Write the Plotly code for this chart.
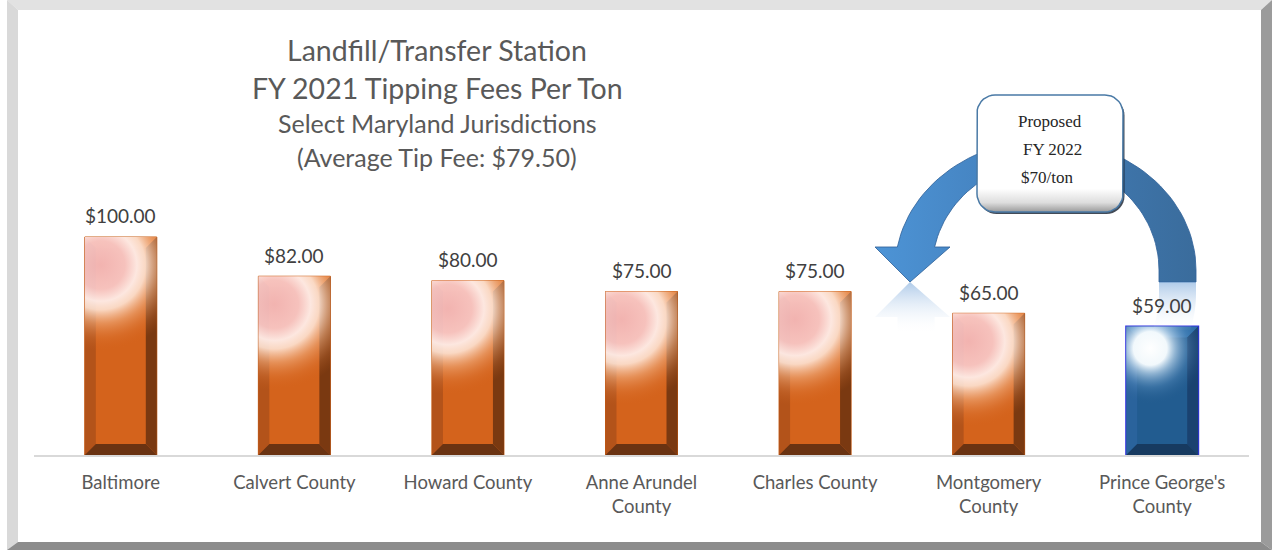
import numpy as np
import plotly.graph_objects as go

# ---------------- data ----------------
categories = ["Baltimore", "Calvert County", "Howard County", "Anne Arundel County",
              "Charles County", "Montgomery County", "Prince George's County"]
tick_labels = ["Baltimore", "Calvert County", "Howard County", "Anne Arundel<br>County",
               "Charles County", "Montgomery<br>County", "Prince George's<br>County"]
tip_fees = [100.00, 82.00, 80.00, 75.00, 75.00, 65.00, 59.00]
title_lines = ["Landfill/Transfer Station", "FY 2021 Tipping Fees Per Ton",
               "Select Maryland Jurisdictions", "(Average Tip Fee: $79.50)"]
callout_lines = ["Proposed", "FY 2022", "$70/ton"]
highlighted = "Prince George's County"

# ---------------- geometry / style ----------------
W, H = 1274, 550
X_L, X_R = 34, 1249          # plot area (px)
BASE_PX = 455                # baseline (px from top)
PY = 2.18                    # px per $ on y
Y_MAX = 110
n = len(categories)
PX = (X_R - X_L) / n         # px per category
x_dom = [X_L / W, X_R / W]
y_dom = [(H - BASE_PX) / H, (H - BASE_PX + Y_MAX * PY) / H]
HW = 36 / PX                 # half bar width in x units
FONT = "Lato, 'Open Sans', sans-serif"

hl = [c == highlighted for c in categories]
idx_orange = [i for i in range(n) if not hl[i]]
idx_blue = [i for i in range(n) if hl[i]]

ORANGE = dict(face="#D4631C", line="#C55A11", top="#D96A20", left="#B3531A",
              right="#7A3911", bottom="#6A3312")
BLUE = dict(face="#225C90", line="#3030E0", top="#2C6DA8", left="#2A639C",
            right="#1A4270", bottom="#173A60")

fig = go.Figure()

# bars
fig.add_trace(go.Bar(
    x=list(range(n)), y=tip_fees, width=2 * HW,
    marker=dict(color=[BLUE["face"] if h else ORANGE["face"] for h in hl],
                line=dict(color=[BLUE["line"] if h else ORANGE["line"] for h in hl],
                          width=[2 if h else 1 for h in hl])),
    hoverinfo="skip", showlegend=False))


def bevel_polys(idx_list, which):
    xs, ys = [], []
    bx, by = 11 / PX, 11 / PY
    for i in idx_list:
        v = tip_fees[i]
        xl, xr = i - HW, i + HW
        yt, yb = v, 0
        pts = {
            "top": [(xl, yt), (xr, yt), (xr - bx, yt - by), (xl + bx, yt - by)],
            "left": [(xl, yt), (xl + bx, yt - by), (xl + bx, yb + by), (xl, yb)],
            "right": [(xr, yt), (xr, yb), (xr - bx, yb + by), (xr - bx, yt - by)],
            "bottom": [(xl, yb), (xl + bx, yb + by), (xr - bx, yb + by), (xr, yb)],
        }[which]
        pts = pts + [pts[0]]
        xs += [p[0] for p in pts] + [None]
        ys += [p[1] for p in pts] + [None]
    return xs, ys


for idx_list, pal in ((idx_orange, ORANGE), (idx_blue, BLUE)):
    for part in ("top", "left", "right", "bottom"):
        xs, ys = bevel_polys(idx_list, part)
        fig.add_trace(go.Scatter(x=xs, y=ys, mode="none", fill="toself",
                                 fillcolor=pal[part], hoverinfo="skip",
                                 showlegend=False))


def glow_trace(i, dx_px, dy_px, R_px, cscale):
    v = tip_fees[i]
    xl, xr = i - HW, i + HW
    yt = v
    yb = max(v - (dy_px + R_px) / PY, 0)
    cx = i + dx_px / PX
    cy = v - dy_px / PY
    rx, ry = R_px / PX, R_px / PY
    # polygon = bar region; zero-area spikes stretch the bounding box so the
    # radial gradient is centred at (cx, cy)
    xs = [xl, xl, xl, xr, cx + rx, xr, xr, xl, cx - rx, xl, xl, xl, xl]
    ys = [yt, cy + ry, yt, yt, yt, yt, yb, yb, yb, yb, cy - ry, yb, yt]
    return go.Scatter(x=xs, y=ys, mode="lines", fill="toself",
                      line=dict(width=0, simplify=False, color="rgba(0,0,0,0)"),
                      fillgradient=dict(type="radial", colorscale=cscale),
                      hoverinfo="skip", showlegend=False)


orange_glow = [[0, "rgba(246,190,196,0.88)"], [0.28, "rgba(250,204,206,0.9)"],
               [0.42, "rgba(255,238,234,0.95)"], [0.52, "rgba(255,232,218,0.88)"],
               [0.68, "rgba(244,180,135,0.55)"], [0.85, "rgba(228,135,75,0.22)"],
               [1, "rgba(212,99,28,0)"]]
blue_glow = [[0, "rgba(255,255,255,1)"], [0.3, "rgba(248,253,255,0.97)"],
             [0.45, "rgba(205,228,246,0.65)"], [0.7, "rgba(120,170,215,0.25)"],
             [1, "rgba(35,90,140,0)"]]
for i in range(n):
    if hl[i]:
        fig.add_trace(glow_trace(i, -12, 22, 56, blue_glow))
    else:
        fig.add_trace(glow_trace(i, -20, 28, 86, orange_glow))


# ---------------- decorations on a pixel-space overlay subplot ----------------
def pix(**kw):
    return dict(xaxis="x2", yaxis="y2", hoverinfo="skip", showlegend=False, **kw)


# frame
frame = [
    ([7, 1272, 1261, 18], [0, 0, 10, 10], "#E2E2E2"),
    ([7, 18, 18, 7], [0, 10, 542, 550], "#D9D9D9"),
    ([1272, 1272, 1261, 1261], [0, 550, 542, 10], "#9B9B9B"),
    ([7, 18, 1261, 1272], [550, 542, 542, 550], "#8C8C8C"),
]
for xs, ys, col in frame:
    fig.add_trace(go.Scatter(x=xs + [xs[0]], y=ys + [ys[0]], mode="none",
                             fill="toself", fillcolor=col, **pix()))

# curved arrow
cx0, cy0 = 1045.5, 270
ao, bo, ai, bi = 150.5, 130, 113.5, 108
th_o = np.linspace(np.pi - np.arcsin(23 / bo), 0, 60)
th_i = np.linspace(0, np.pi - np.arcsin(23 / bi), 60)
ax_ = list(cx0 + ao * np.cos(th_o)) + [1196, 1196, 1159, 1159] + list(cx0 + ai * np.cos(th_i)) \
    + [950, 910, 875]
ay_ = list(cy0 - bo * np.sin(th_o)) + [270, 282, 282, 270] + list(cy0 - bi * np.sin(th_i)) \
    + [247, 282, 247]
ax_ += [ax_[0]]
ay_ += [ay_[0]]
fig.add_trace(go.Scatter(x=ax_, y=ay_, mode="lines", fill="toself",
                         line=dict(color="rgba(50,100,155,0.85)", width=1),
                         fillgradient=dict(type="horizontal",
                                           colorscale=[[0, "#4D94D6"], [0.45, "#437FBB"],
                                                       [1, "#3A6C9C"]]),
                         **pix()))

# reflections
refl_scale = [[0, "rgba(110,160,215,0.55)"], [1, "rgba(255,255,255,0)"]]
yy = np.linspace(270, 234, 10)
ro = cx0 + ao * np.sqrt(1 - ((cy0 - yy) / bo) ** 2)
ri = cx0 + ai * np.sqrt(1 - ((cy0 - yy) / bi) ** 2)
my = 282 + (282 - yy)
rx = [1196, 1159] + list(ri) + list(ro[::-1]) + [1196]
ry = [282, 282] + list(my) + list(my[::-1]) + [282]
fig.add_trace(go.Scatter(x=rx, y=ry, mode="none", fill="toself",
                         fillgradient=dict(type="vertical", colorscale=refl_scale,
                                           start=282, stop=332), **pix()))
hx = [910, 950, 934.6, 934.6, 897.5, 897.5, 875, 910]
hy = [282, 317, 317, 336, 336, 317, 317, 282]
fig.add_trace(go.Scatter(x=hx, y=hy, mode="none", fill="toself",
                         fillgradient=dict(type="vertical", colorscale=refl_scale,
                                           start=282, stop=334), **pix()))


# callout box
def rrect(x0, y0, x1, y1, r):
    xs, ys = [], []
    for (ccx, ccy, a0) in ((x1 - r, y0 + r, -90), (x1 - r, y1 - r, 0),
                           (x0 + r, y1 - r, 90), (x0 + r, y0 + r, 180)):
        t = np.radians(np.linspace(a0, a0 + 90, 10))
        xs += list(ccx + r * np.cos(t))
        ys += list(ccy + r * np.sin(t))
    return xs + [xs[0]], ys + [ys[0]]


sx, sy = rrect(978.5, 97.5, 1124.5, 214, 18)
fig.add_trace(go.Scatter(x=sx, y=sy, mode="none", fill="toself",
                         fillcolor="rgba(20,30,45,0.8)", **pix()))
bxs, bys = rrect(977, 95, 1123, 212, 18)
fig.add_trace(go.Scatter(x=bxs, y=bys, mode="lines", fill="toself",
                         line=dict(color="#4A7AA6", width=1.5),
                         fillgradient=dict(type="vertical", start=95, stop=212,
                                           colorscale=[[0, "#FFFFFF"], [0.8, "#FFFFFF"],
                                                       [0.92, "#DDDDDD"], [1, "#9A9A9A"]]),
                         **pix()))

# ---------------- annotations ----------------
ann = []
for i, v in enumerate(tip_fees):
    ann.append(dict(x=i, y=v, xref="x", yref="y", text=f"${v:,.2f}", showarrow=False,
                    yanchor="middle", yshift=21,
                    font=dict(family=FONT, size=19, color="#404040")))
title_y = [50, 88, 123, 157]
title_sz = [28.5, 28.5, 25, 25]
for t, yv, s in zip(title_lines, title_y, title_sz):
    ann.append(dict(x=437, y=yv, xref="x2", yref="y2", text=t, showarrow=False,
                    xanchor="center", yanchor="middle",
                    font=dict(family=FONT, size=s, color="#595959")))
for t, xv, yv in zip(callout_lines, [1050, 1052, 1047], [121, 149, 177]):
    ann.append(dict(x=xv, y=yv, xref="x2", yref="y2", text=t, showarrow=False,
                    xanchor="center", yanchor="middle",
                    font=dict(family="'Liberation Serif', serif", size=17, color="#262626")))

fig.update_layout(
    width=W, height=H, margin=dict(l=0, r=0, t=0, b=0),
    paper_bgcolor="white", plot_bgcolor="rgba(0,0,0,0)",
    showlegend=False, annotations=ann,
    xaxis=dict(domain=x_dom, range=[-0.5, n - 0.5], anchor="y",
               tickmode="array", tickvals=list(range(n)), ticktext=tick_labels,
               tickfont=dict(family=FONT, size=18.5, color="#595959"),
               ticks="", ticklabelstandoff=10, showgrid=False, zeroline=False,
               showline=True, linecolor="#D9D9D9", linewidth=1.5, automargin=False,
               fixedrange=True),
    yaxis=dict(domain=y_dom, range=[0, Y_MAX], anchor="x", visible=False,
               showgrid=False, zeroline=False, fixedrange=True),
    xaxis2=dict(domain=[0, 1], range=[0, W], anchor="y2", visible=False, fixedrange=True),
    yaxis2=dict(domain=[0, 1], range=[H, 0], anchor="x2", visible=False, fixedrange=True),
)

fig.write_html("out.html", config={"displayModeBar": False},
               post_script="document.body.style.margin='0';document.body.style.overflow='hidden';")
